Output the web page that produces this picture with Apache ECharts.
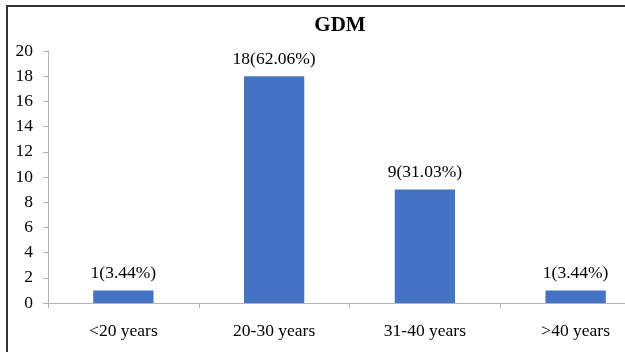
<!DOCTYPE html>
<html>
<head>
<meta charset="utf-8">
<script src="https://cdn.jsdelivr.net/npm/echarts@6/dist/echarts.min.js"></script>
<style>
  html, body { margin: 0; padding: 0; background: #fff; overflow: hidden; }
  #chart { width: 690px; height: 352px; }
</style>
</head>
<body>
<div id="chart"></div>
<script>
// Age groups and GDM case counts with their shares
const categories = ['<20 years', '20-30 years', '31-40 years', '>40 years'];
const counts = [1, 18, 9, 1];
const shares = ['3.44%', '62.06%', '31.03%', '3.44%'];
const yTicks = { min: 0, max: 20, interval: 2 };

const serif = '"Liberation Serif", "DejaVu Serif", serif';
const chart = echarts.init(document.getElementById('chart'), null, { renderer: 'canvas' });

chart.setOption({
  animation: false,
  title: {
    text: 'GDM',
    left: 335,
    textAlign: 'center',
    top: 10,
    textStyle: { fontFamily: serif, fontSize: 21, fontWeight: 'bold', color: '#000' }
  },
  graphic: [{
    type: 'rect',
    shape: { x: 7, y: 6, width: 700, height: 400 },
    style: { fill: 'none', stroke: '#333', lineWidth: 2 },
    silent: true
  }],
  grid: { left: 48, top: 51, width: 603, height: 252, containLabel: false },
  xAxis: {
    type: 'category',
    data: categories,
    axisLine: { lineStyle: { color: '#b3b3b3', width: 1 } },
    axisTick: { show: true, length: 5, lineStyle: { color: '#b3b3b3' } },
    axisLabel: { fontFamily: serif, fontSize: 17.5, color: '#000', margin: 19 }
  },
  yAxis: {
    type: 'value',
    min: yTicks.min,
    max: yTicks.max,
    interval: yTicks.interval,
    splitLine: { show: false },
    axisLine: { show: true, lineStyle: { color: '#b3b3b3', width: 1 } },
    axisTick: { show: true, length: 5, lineStyle: { color: '#b3b3b3' } },
    axisLabel: { fontFamily: serif, fontSize: 17.5, color: '#000', margin: 15 }
  },
  series: [{
    type: 'bar',
    data: counts,
    barWidth: '40%',
    itemStyle: { color: '#4472C4' },
    label: {
      show: true,
      position: 'top',
      distance: 8,
      fontFamily: serif,
      fontSize: 17.5,
      color: '#000',
      formatter: p => p.value + '(' + shares[p.dataIndex] + ')'
    }
  }]
});
</script>
</body>
</html>
